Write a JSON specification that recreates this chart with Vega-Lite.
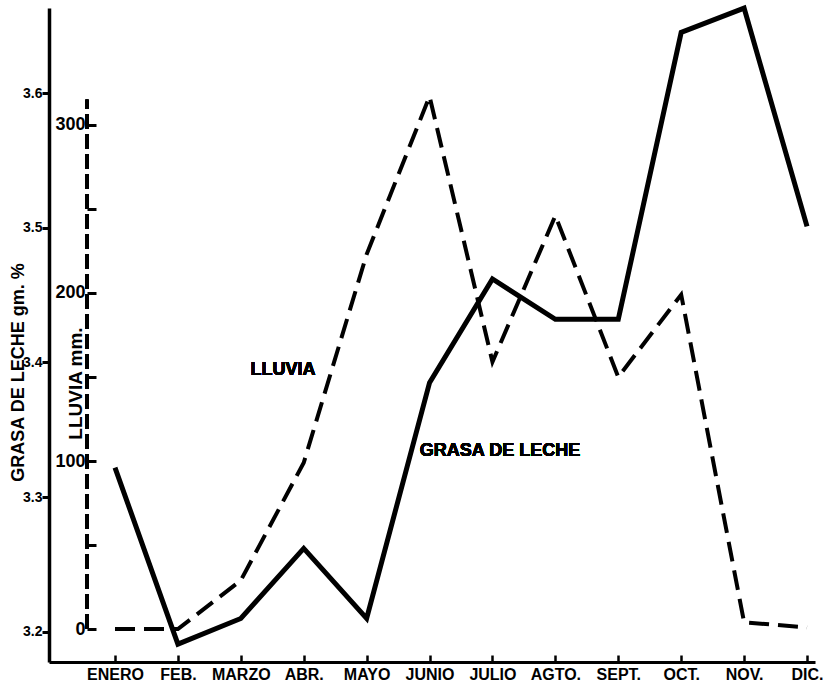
{
  "$schema": "https://vega.github.io/schema/vega-lite/v6.json",
  "width": 766,
  "height": 654,
  "autosize": {"type": "none"},
  "padding": {"left": 49, "top": 8, "right": 8, "bottom": 26},
  "background": "white",
  "config": {
    "view": {"stroke": null},
    "font": "Liberation Sans",
    "axis": {"grid": false, "domainColor": "black", "tickColor": "black", "labelColor": "black", "titleColor": "black", "labelFontWeight": "bold", "titleFontWeight": "bold"}
  },
  "data": {
    "values": [
      {"n": 1, "mes": "ENERO", "grasa": 3.322, "lluvia": 0},
      {"n": 2, "mes": "FEB.", "grasa": 3.191, "lluvia": 0},
      {"n": 3, "mes": "MARZO", "grasa": 3.210, "lluvia": 29},
      {"n": 4, "mes": "ABR.", "grasa": 3.262, "lluvia": 99},
      {"n": 5, "mes": "MAYO", "grasa": 3.210, "lluvia": 223},
      {"n": 6, "mes": "JUNIO", "grasa": 3.385, "lluvia": 317},
      {"n": 7, "mes": "JULIO", "grasa": 3.462, "lluvia": 159},
      {"n": 8, "mes": "AGTO.", "grasa": 3.432, "lluvia": 246},
      {"n": 9, "mes": "SEPT.", "grasa": 3.432, "lluvia": 150},
      {"n": 10, "mes": "OCT.", "grasa": 3.645, "lluvia": 199},
      {"n": 11, "mes": "NOV.", "grasa": 3.663, "lluvia": 4},
      {"n": 12, "mes": "DIC.", "grasa": 3.501, "lluvia": 1}
    ]
  },
  "layer": [
    {
      "layer": [
        {
          "mark": {"type": "line", "stroke": "black", "strokeWidth": 5, "strokeJoin": "miter", "strokeCap": "butt"},
          "encoding": {
            "x": {
              "field": "n", "type": "quantitative",
              "scale": {"domain": [-0.049, 12.127], "nice": false, "zero": false},
              "axis": {
                "title": null, "orient": "bottom",
                "values": [1,2,3,4,5,6,7,8,9,10,11,12],
                "labelExpr": "['ENERO','FEB.','MARZO','ABR.','MAYO','JUNIO','JULIO','AGTO.','SEPT.','OCT.','NOV.','DIC.'][datum.value-1]",
                "domainWidth": 3, "tickSize": -7, "tickWidth": 2.5,
                "labelPadding": 11, "labelFontSize": 16, "labelFlush": false, "labelOverlap": false
              }
            },
            "y": {
              "field": "grasa", "type": "quantitative",
              "scale": {"domain": [3.1777, 3.6631], "nice": false, "zero": false},
              "axis": {
                "orient": "left",
                "title": "GRASA DE LECHE gm. %",
                "values": [3.2, 3.3, 3.4, 3.5, 3.6], "format": ".1f",
                "domainWidth": 3.5, "tickSize": 7, "tickWidth": 3,
                "labelPadding": 0, "labelFontSize": 14,
                "titleFontSize": 18, "titleX": -31, "titleY": 364, "titleBaseline": "middle", "titleAngle": -90
              }
            }
          }
        },
        {
          "mark": {"type": "text", "fontSize": 18, "fontWeight": "bold", "fill": "black"},
          "encoding": {
            "x": {"datum": 7.12, "type": "quantitative"},
            "y": {"datum": 3.334, "type": "quantitative"},
            "text": {"value": "GRASA DE LECHE"}
          }
        }
      ]
    },
    {
      "layer": [
        {
          "mark": {"type": "line", "stroke": "black", "strokeWidth": 4, "strokeDash": [20, 9], "strokeJoin": "miter", "strokeCap": "butt"},
          "encoding": {
            "x": {"field": "n", "type": "quantitative"},
            "y": {
              "field": "lluvia", "type": "quantitative",
              "scale": {"domain": [-19.6, 369.6], "nice": false, "zero": false},
              "axis": {
                "orient": "left", "offset": -38,
                "title": "LLUVIA mm.",
                "values": [0, 50, 100, 150, 200, 250, 300],
                "labelExpr": "datum.value % 100 == 0 ? datum.label : ''",
                "domain": false, "tickSize": -9, "tickWidth": 3,
                "labelPadding": 11, "labelFontSize": 18,
                "titleFontSize": 19, "titleX": -12, "titleY": 375, "titleBaseline": "middle", "titleAngle": -90
              }
            }
          }
        },
        {
          "mark": {"type": "rule", "stroke": "black", "strokeWidth": 3, "strokeDash": [15, 5]},
          "encoding": {
            "x": {"datum": 0.555, "type": "quantitative"},
            "y": {"datum": 0, "type": "quantitative"},
            "y2": {"datum": 315}
          }
        },
        {
          "mark": {"type": "text", "fontSize": 18, "fontWeight": "bold", "fill": "black"},
          "encoding": {
            "x": {"datum": 3.67, "type": "quantitative"},
            "y": {"datum": 154, "type": "quantitative"},
            "text": {"value": "LLUVIA"}
          }
        }
      ]
    }
  ],
  "resolve": {"scale": {"y": "independent"}, "axis": {"y": "independent"}}
}
